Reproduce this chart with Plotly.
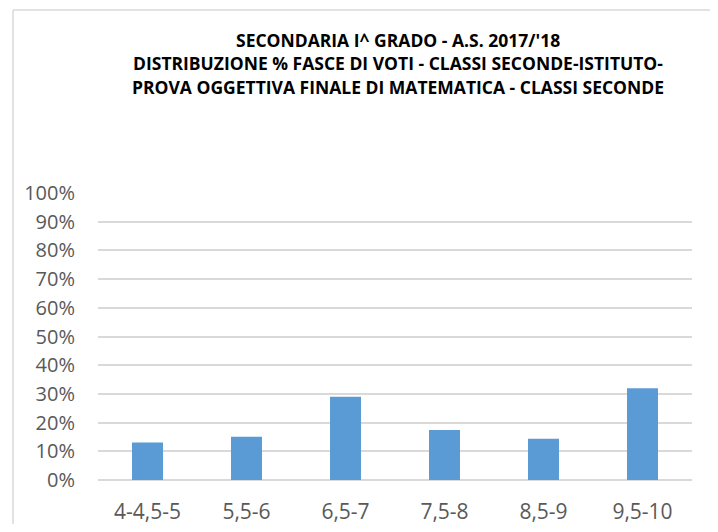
import plotly.graph_objects as go

# fasce di voti e percentuali
fasce = ["4-4,5-5", "5,5-6", "6,5-7", "7,5-8", "8,5-9", "9,5-10"]
percentuali = [0.131, 0.151, 0.290, 0.174, 0.144, 0.320]
tick_vals = [0, 0.1, 0.2, 0.3, 0.4, 0.5, 0.6, 0.7, 0.8, 0.9, 1.0]
tick_text = ["0%", "10%", "20%", "30%", "40%", "50%", "60%", "70%", "80%", "90%", "100%"]
title_lines = [
    "SECONDARIA I^ GRADO - A.S. 2017/'18",
    "DISTRIBUZIONE % FASCE DI VOTI - CLASSI SECONDE-ISTITUTO-",
    "PROVA OGGETTIVA FINALE DI MATEMATICA - CLASSI SECONDE",
]

# the page has an 8px body margin, so the figure is shifted by that
OFF = 8
W, H = 718 - 2 * OFF, 532 - 2 * OFF
left, right, top, bottom = 98 - OFF, 692 - OFF, 193 - OFF, 480 - OFF
ph = bottom - top
pw = right - left

fig = go.Figure()
fig.add_trace(go.Bar(x=fasce, y=percentuali, marker_color="#5b9bd5",
                     marker_line_width=0, width=0.313))

def py(ypix):
    # window pixel -> paper y
    return 1 + (top - (ypix - OFF)) / ph

def px_(xpix):
    return ((xpix - OFF) - left) / pw

annots = []
for line, yc in zip(title_lines, [40, 63, 87]):
    annots.append(dict(text="<b>" + line + "</b>", x=px_(398), y=py(yc),
                       xref="paper", yref="paper", showarrow=False,
                       xanchor="center", yanchor="middle",
                       font=dict(family="Open Sans", size=17.5, color="#000000")))

fig.update_layout(
    width=W, height=H,
    margin=dict(l=left, r=W - right, t=top, b=H - bottom),
    paper_bgcolor="white", plot_bgcolor="white",
    showlegend=False,
    annotations=annots,
    shapes=[
        dict(type="line", xref="paper", yref="paper",
             x0=px_(13), x1=px_(13), y0=py(540), y1=py(10),
             line=dict(color="#d9d9d9", width=1.5), layer="below"),
        dict(type="line", xref="paper", yref="paper",
             x0=px_(13), x1=px_(730), y0=py(10), y1=py(10),
             line=dict(color="#d9d9d9", width=1.5), layer="below"),
    ],
)
fig.update_yaxes(range=[0, 1.0], tickvals=tick_vals, ticktext=tick_text,
                 automargin=False,
                 showgrid=True, gridcolor="#d9d9d9", gridwidth=1.5,
                 zeroline=True, zerolinecolor="#d9d9d9", zerolinewidth=1.5,
                 showline=False, ticks="", ticklabelstandoff=22,
                 tickfont=dict(family="Open Sans", size=20, color="#595959"))
fig.update_xaxes(automargin=False, showgrid=False, showline=False, ticks="",
                 ticklabelstandoff=17,
                 tickfont=dict(family="Open Sans", size=21, color="#595959"))

fig.write_html("out.html")
